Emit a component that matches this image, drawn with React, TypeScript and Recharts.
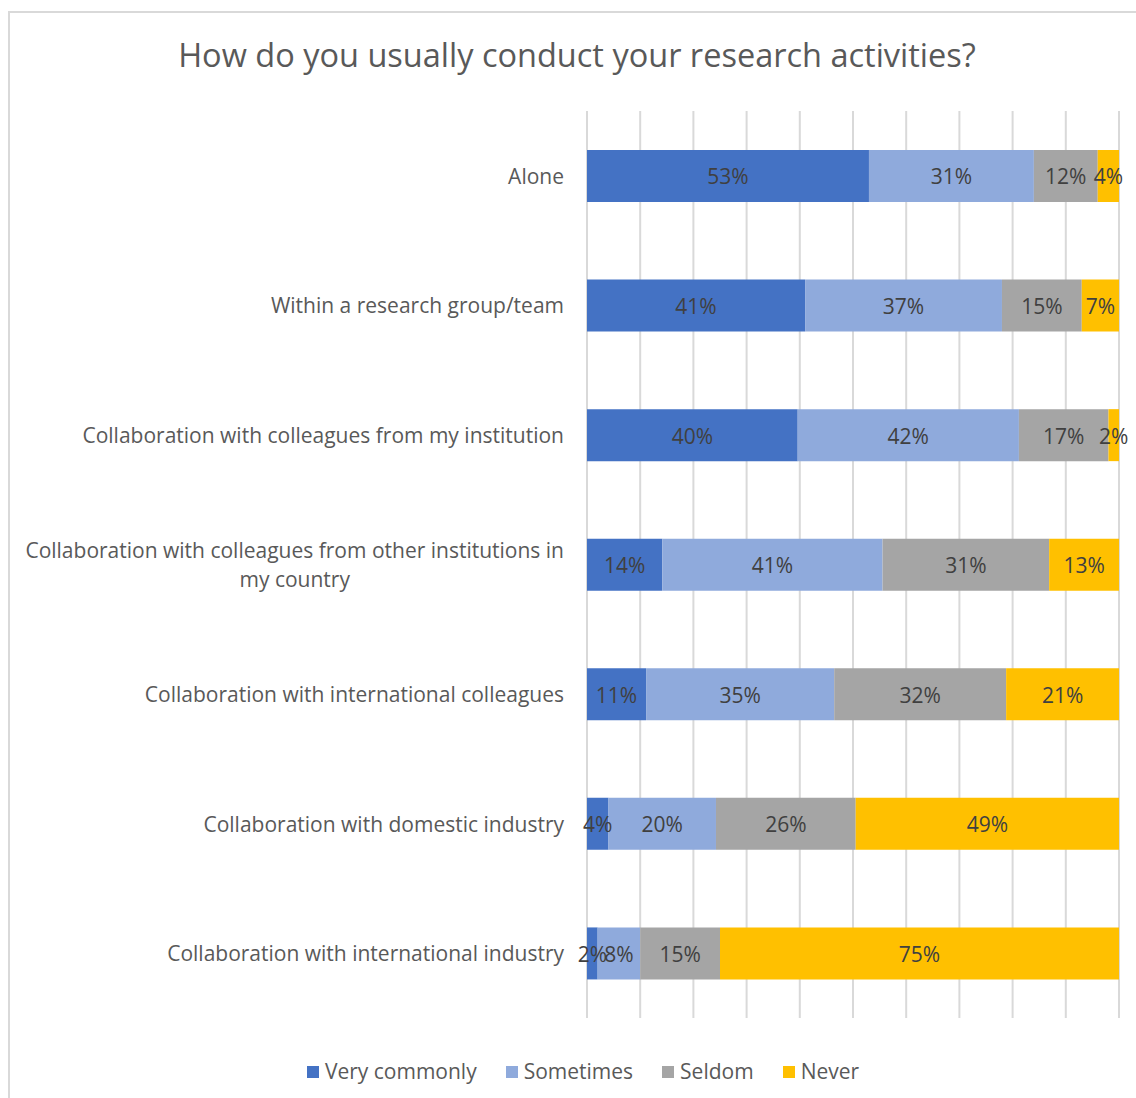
import { Bar, BarChart, CartesianGrid, LabelList, Legend, XAxis, YAxis } from 'recharts'

const categories = [
  'Alone',
  'Within a research group/team',
  'Collaboration with colleagues from my institution',
  'Collaboration with colleagues from other institutions in my country',
  'Collaboration with international colleagues',
  'Collaboration with domestic industry',
  'Collaboration with international industry',
]

const veryCommonly = [53, 41, 40, 14, 11, 4, 2]
const sometimes = [31, 37, 42, 41, 35, 20, 8]
const seldom = [12, 15, 17, 31, 32, 26, 15]
const never = [4, 7, 2, 13, 21, 49, 75]

const series = [
  { key: 'veryCommonly', name: 'Very commonly', values: veryCommonly, color: '#4472C4' },
  { key: 'sometimes', name: 'Sometimes', values: sometimes, color: '#8FAADC' },
  { key: 'seldom', name: 'Seldom', values: seldom, color: '#A5A5A5' },
  { key: 'never', name: 'Never', values: never, color: '#FFC000' },
]

const xTicks = [0, 0.1, 0.2, 0.3, 0.4, 0.5, 0.6, 0.7, 0.8, 0.9, 1]

const data = categories.map((name, i) => {
  const row: Record<string, string | number> = { name }
  series.forEach((s) => (row[s.key] = s.values[i]))
  return row
})

const FONT = '"Open Sans", sans-serif'
const LABEL_SIZE = 21

const ctx = typeof document !== 'undefined' ? document.createElement('canvas').getContext('2d') : null
function measure(text: string) {
  if (!ctx) return text.length * LABEL_SIZE * 0.52
  ctx.font = `${LABEL_SIZE}px "Open Sans"`
  return ctx.measureText(text).width
}

function wrap(text: string, maxWidth: number) {
  const words = text.split(' ')
  const lines: string[] = []
  let cur = ''
  for (const w of words) {
    const next = cur ? cur + ' ' + w : w
    if (cur && measure(next) > maxWidth) {
      lines.push(cur)
      cur = w
    } else cur = next
  }
  if (cur) lines.push(cur)
  return lines
}

function CategoryTick(props: any) {
  const { x, y, payload } = props
  const lines = wrap(String(payload.value), 548)
  if (lines.length === 1) {
    return (
      <text x={x} y={y} dy="0.38em" textAnchor="end" fill="#595959" fontSize={LABEL_SIZE} fontFamily={FONT}>
        {lines[0]}
      </text>
    )
  }
  const block = Math.max(...lines.map(measure))
  const lh = 29
  return (
    <g>
      {lines.map((line, i) => (
        <text
          key={i}
          x={x - block / 2}
          y={y + (i - (lines.length - 1) / 2) * lh}
          dy="0.38em"
          textAnchor="middle"
          fill="#595959"
          fontSize={LABEL_SIZE}
          fontFamily={FONT}
        >
          {line}
        </text>
      ))}
    </g>
  )
}

function LegendContent({ payload }: any) {
  const items = [...(payload || [])].sort(
    (a: any, b: any) => series.findIndex((s) => s.name === a.value) - series.findIndex((s) => s.name === b.value),
  )
  return (
    <div
      style={{
        display: 'flex',
        justifyContent: 'center',
        gap: 29,
        paddingLeft: 37,
        fontFamily: FONT,
        fontSize: 21,
        lineHeight: '25px',
        color: '#595959',
      }}
    >
      {items.map((p: any) => (
        <div key={p.value} style={{ display: 'flex', alignItems: 'center', gap: 6 }}>
          <span style={{ width: 12, height: 12, background: p.color, display: 'inline-block' }} />
          <span>{p.value}</span>
        </div>
      ))}
    </div>
  )
}

export default function App() {
  return (
    <div style={{ position: 'absolute', left: 0, top: 0, width: 1136, height: 1098, overflow: 'hidden', background: '#fff' }}>
      <div
        style={{
          position: 'absolute',
          left: 8,
          top: 11,
          width: 1150,
          height: 1100,
          borderLeft: '2px solid #d9d9d9',
          borderTop: '2px solid #d9d9d9',
        }}
      >
        <div
          style={{
            position: 'absolute',
            left: 0,
            top: 22,
            width: 1134,
            textAlign: 'center',
            fontFamily: FONT,
            fontSize: 32.5,
            lineHeight: '40px',
            color: '#595959',
          }}
        >
          How do you usually conduct your research activities?
        </div>
        <BarChart
          width={1150}
          height={1085}
          data={data}
          layout="vertical"
          stackOffset="expand"
          margin={{ top: 98, right: 41, bottom: 14, left: 0 }}
        >
          <CartesianGrid
            horizontal={false}
            verticalCoordinatesGenerator={({ offset }: any) => xTicks.map((t) => offset.left + t * offset.width)}
            stroke="#d9d9d9"
            strokeWidth={2}
          />
          <XAxis
            type="number"
            domain={[0, 1]}
            ticks={xTicks}
            tick={() => <g />}
            axisLine={false}
            tickLine={false}
            height={41}
          />
          <YAxis
            type="category"
            dataKey="name"
            width={577}
            interval={0}
            axisLine={false}
            tickLine={false}
            tickSize={0}
            tickMargin={23}
            tick={<CategoryTick />}
          />
          <Legend verticalAlign="bottom" content={<LegendContent />} />
          {series.map((s) => (
            <Bar key={s.key} dataKey={s.key} name={s.name} stackId="a" fill={s.color} barSize={52} isAnimationActive={false}>
              <LabelList
                dataKey={s.key}
                position="center"
                formatter={(v: any) => `${v}%`}
                fill="#404040"
                fontSize={21}
                fontFamily={FONT}
                dy={1}
              />
            </Bar>
          ))}
        </BarChart>
      </div>
    </div>
  )
}
